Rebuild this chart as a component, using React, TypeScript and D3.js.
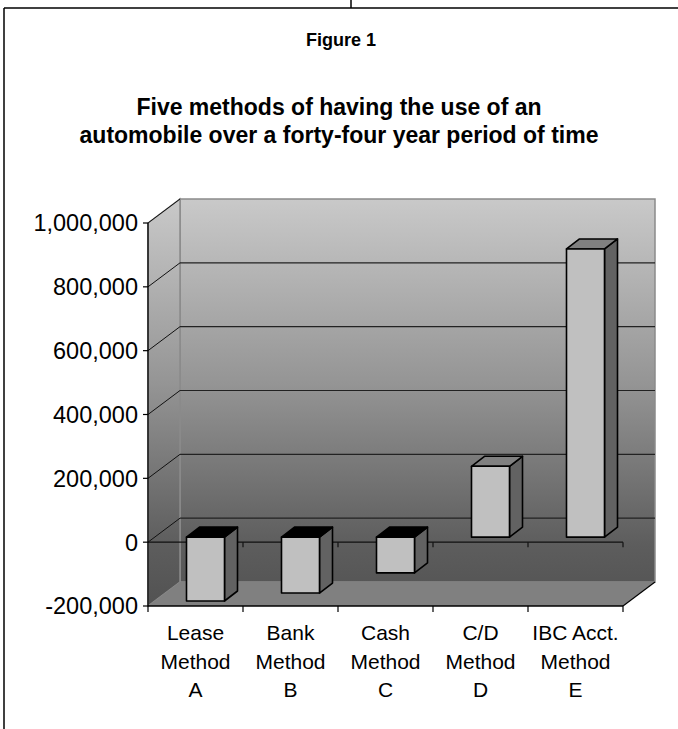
import React from "react";
import * as d3 from "d3";

// Category labels, one array per label line
const methodNames = ["Lease", "Bank", "Cash", "C/D", "IBC Acct."];
const methodWord = ["Method", "Method", "Method", "Method", "Method"];
const methodLetters = ["A", "B", "C", "D", "E"];

// Net result for each method (dollars)
const values = [-200000, -175000, -112000, 222000, 903000];

// Value axis ticks
const yTicks = [-200000, 0, 200000, 400000, 600000, 800000, 1000000];

const titleLines = ["Five methods of having the use of an", "automobile over a forty-four year period of time"];

const W = 678;
const H = 729;
const FONT = "'Liberation Sans', Arial, sans-serif";

const fmt = d3.formatLocale({ decimal: ".", thousands: ",", grouping: [3], currency: ["$", ""], minus: "-" }).format(",");

export default function App() {
  // front plane of the 3-D box
  const left = 148;
  const right = 623;
  const x = d3.scaleBand<string>().domain(methodLetters).range([left, right]);
  const y = d3.scaleLinear().domain([-200000, 1000000]).range([606, 223]);

  // depth of the walls (oblique projection)
  const DX = 32;
  const DY = -24;

  // bar geometry within the depth
  const barShiftX = 10;
  const barShiftY = -5;
  const barW = 38;
  const bDX = 13;
  const bDY = -10;

  const yTop = y(1000000);
  const yBot = y(-200000);

  const pts = (p: number[][]) => p.map((d) => d.join(",")).join(" ");

  return (
    <svg width={W} height={H} style={{ position: "absolute", left: 0, top: 0, background: "#fff" }}>
      <defs>
        <linearGradient id="wallGrad" gradientUnits="userSpaceOnUse" x1={0} y1={yTop + DY} x2={0} y2={yBot}>
          <stop offset="0" stopColor="#c9c9c9" />
          <stop offset="0.45" stopColor="#959595" />
          <stop offset="0.85" stopColor="#5d5d5d" />
          <stop offset="1" stopColor="#525252" />
        </linearGradient>
      </defs>

      {/* outer frame */}
      <line x1={4} y1={8} x2={W} y2={8} stroke="#000" strokeWidth={1.5} />
      <line x1={4} y1={8} x2={4} y2={H} stroke="#000" strokeWidth={1.5} />
      <line x1={351} y1={0} x2={351} y2={8} stroke="#000" strokeWidth={1.5} />

      {/* titles */}
      <text x={341} y={46} textAnchor="middle" fontFamily={FONT} fontWeight="bold" fontSize={18}>
        Figure 1
      </text>
      {titleLines.map((t, i) => (
        <text key={t} x={339} y={115 + i * 28} textAnchor="middle" fontFamily={FONT} fontWeight="bold" fontSize={23}>
          {t}
        </text>
      ))}

      {/* back wall */}
      <polygon
        points={pts([
          [left + DX, yTop + DY],
          [right + DX, yTop + DY],
          [right + DX, yBot + DY],
          [left + DX, yBot + DY],
        ])}
        fill="url(#wallGrad)"
        stroke="#8a8a8a"
        strokeWidth={1.5}
      />
      {/* side wall */}
      <polygon
        points={pts([
          [left, yTop],
          [left + DX, yTop + DY],
          [left + DX, yBot + DY],
          [left, yBot],
        ])}
        fill="url(#wallGrad)"
        stroke="#8a8a8a"
        strokeWidth={1.5}
      />
      {/* floor */}
      <polygon
        points={pts([
          [left, yBot],
          [right, yBot],
          [right + DX, yBot + DY],
          [left + DX, yBot + DY],
        ])}
        fill="#808080"
      />
      <line x1={right} y1={yBot} x2={right + DX} y2={yBot + DY} stroke="#000" strokeWidth={1.2} />

      {/* gridlines on walls */}
      {yTicks.slice(1).map((t) => (
        <g key={t}>
          <line x1={left} y1={y(t)} x2={left + DX} y2={y(t) + DY} stroke="#111" strokeWidth={1} />
          {t < 1000000 && (
            <line x1={left + DX} y1={y(t) + DY} x2={right + DX} y2={y(t) + DY} stroke="#222" strokeWidth={1.2} />
          )}
        </g>
      ))}

      {/* category axis crossing at zero */}
      <line x1={left} y1={y(0)} x2={right} y2={y(0)} stroke="#111" strokeWidth={1.3} />
      {methodLetters.map((c) => (
        <line key={c} x1={(x(c) as number) + x.bandwidth()} y1={y(0)} x2={(x(c) as number) + x.bandwidth()} y2={y(0) + 5} stroke="#111" strokeWidth={1.2} />
      ))}

      {/* bars */}
      {values.map((v, i) => {
        const c = methodLetters[i];
        const x0 = (x(c) as number) + x.bandwidth() / 2 + barShiftX - barW / 2;
        const x1 = x0 + barW;
        const y0 = y(0) + barShiftY;
        const yv = y(v) + barShiftY;
        const top = Math.min(y0, yv);
        const bot = Math.max(y0, yv);
        return (
          <g key={c} stroke="#000" strokeWidth={1.6} strokeLinejoin="round">
            <polygon points={pts([[x1, top], [x1 + bDX, top + bDY], [x1 + bDX, bot + bDY], [x1, bot]])} fill="#626262" />
            <polygon points={pts([[x0, top], [x0 + bDX, top + bDY], [x1 + bDX, top + bDY], [x1, top]])} fill={v >= 0 ? "#808080" : "#000"} />
            <rect x={x0} y={top} width={barW} height={bot - top} fill="#c0c0c0" />
          </g>
        );
      })}

      {/* value axis */}
      <line x1={left} y1={yTop} x2={left} y2={yBot} stroke="#000" strokeWidth={1.3} />
      {yTicks.map((t) => (
        <g key={t}>
          <line x1={left - 5} y1={y(t)} x2={left} y2={y(t)} stroke="#000" strokeWidth={1.2} />
          <text x={left - 10} y={y(t)} dy="0.36em" textAnchor="end" fontFamily={FONT} fontSize={23.5}>
            {fmt(t)}
          </text>
        </g>
      ))}

      {/* floor front edge with category ticks */}
      <line x1={left} y1={yBot} x2={right} y2={yBot} stroke="#000" strokeWidth={1.3} />
      {[left, ...methodLetters.map((c) => (x(c) as number) + x.bandwidth())].map((px) => (
        <line key={px} x1={px} y1={yBot} x2={px} y2={yBot + 6} stroke="#000" strokeWidth={1.2} />
      ))}

      {/* category labels */}
      {methodLetters.map((c, i) => {
        const cx = (x(c) as number) + x.bandwidth() / 2;
        const lines = [methodNames[i], methodWord[i], methodLetters[i]];
        return (
          <g key={c}>
            {lines.map((t, j) => (
              <text key={j} x={cx} y={640 + j * 28.5} textAnchor="middle" fontFamily={FONT} fontSize={21}>
                {t}
              </text>
            ))}
          </g>
        );
      })}
    </svg>
  );
}
